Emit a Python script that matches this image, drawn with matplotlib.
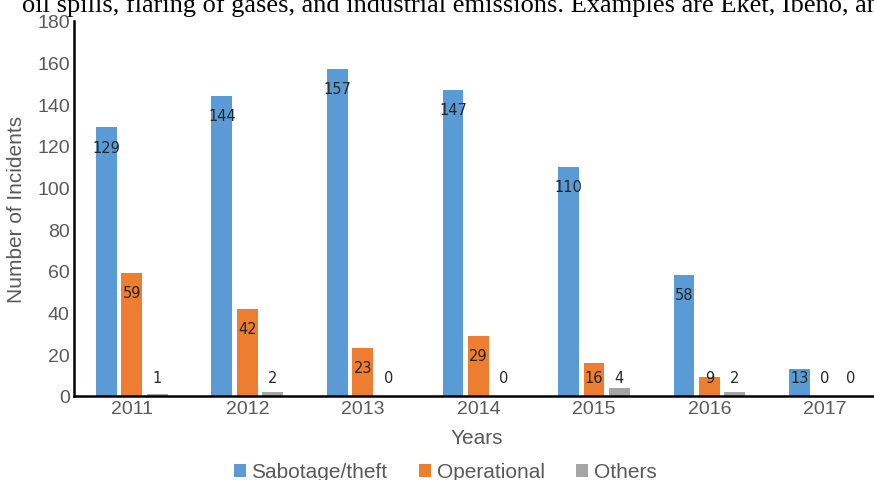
import matplotlib
matplotlib.use("Agg")
import matplotlib.pyplot as plt
import numpy as np

years = ["2011", "2012", "2013", "2014", "2015", "2016", "2017"]
sabotage = [129, 144, 157, 147, 110, 58, 13]
operational = [59, 42, 23, 29, 16, 9, 0]
others = [1, 2, 0, 0, 4, 2, 0]
series_names = ["Sabotage/theft", "Operational", "Others"]
yticks = [0, 20, 40, 60, 80, 100, 120, 140, 160, 180]
header = "oil spills, flaring of gases, and industrial emissions. Examples are Eket, Ibeno, and"

colors = ["#5B9BD5", "#ED7D31", "#A5A5A5"]
tick_color = "#595959"

fig = plt.figure(figsize=(8.74, 4.81), dpi=100)
ax = fig.add_axes([74/874, 1 - 397/481, 1 - 74/874 + 0.01, (397 - 22)/481])

x = np.arange(len(years))
w = 0.18
off = 0.22
series = [sabotage, operational, others]
for i, (vals, c, name) in enumerate(zip(series, colors, series_names)):
    xs = x + (i - 1) * off
    ax.bar(xs, vals, width=w, color=c, label=name, zorder=2)
    for xi, v in zip(xs, vals):
        if i < 2 and v > 0:
            ypos = max(v - 9.5, 9)
        else:
            ypos = 9
        ax.text(xi, ypos, str(v), ha="center", va="center", fontsize=10.5,
                color="#262626", family="DejaVu Sans", zorder=3)

ax.set_xlim(-0.5, 6.5)
ax.set_ylim(0, 180)
ax.set_yticks(yticks)
ax.set_xticks(x)
ax.set_xticklabels(years)
for s in ["top", "right"]:
    ax.spines[s].set_visible(False)
for s in ["left", "bottom"]:
    ax.spines[s].set_linewidth(1.8)
    ax.spines[s].set_color("black")
ax.tick_params(axis="both", length=0, labelsize=14, labelcolor=tick_color,
               pad=3)
ax.tick_params(axis="x", pad=3)
for lab in ax.get_xticklabels() + ax.get_yticklabels():
    lab.set_family("Liberation Sans")

ax.set_ylabel("Number of Incidents", fontsize=15, color=tick_color,
              family="Liberation Sans")
ax.yaxis.set_label_coords(-0.059, 0.5)
fig.text(477/874, 1 - 439/481, "Years", ha="center", va="center",
         fontsize=15, color=tick_color, family="Liberation Sans")

leg = fig.legend(loc="center", bbox_to_anchor=(445/874, 1 - 473/481), ncol=3,
                 frameon=False, handlelength=0.6,
                 handleheight=0.6, handletextpad=0.25, columnspacing=1.5,
                 prop={"family": "Liberation Sans", "size": 15})
for t in leg.get_texts():
    t.set_color(tick_color)

fig.text(22/874, 1 - 12/481, header, ha="left", va="baseline", fontsize=19,
         family="Liberation Serif", color="black")

fig.savefig("out.png", dpi=100)
